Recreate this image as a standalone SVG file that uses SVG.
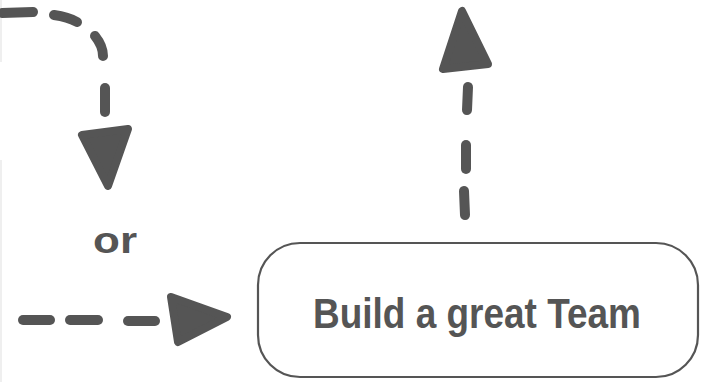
<svg xmlns="http://www.w3.org/2000/svg" width="706" height="382" viewBox="0 0 706 382">
<style>
.dash{fill:none;stroke:#555;stroke-width:10;stroke-linecap:round}
.head{fill:#555;stroke:#555;stroke-width:8;stroke-linejoin:round}
.box{fill:#fff;stroke:#555;stroke-width:2.2}
.lbl{font-family:"Liberation Sans",Arial,sans-serif;fill:#555;font-weight:bold}
.edge{stroke:#e4e4e4;stroke-width:1.2}
</style>
<rect width="706" height="382" fill="#fff"/>
<g id="frame">
<line class="edge" x1="1" y1="0" x2="1" y2="62"/>
<line class="edge" x1="1" y1="160" x2="1" y2="382"/>
</g>
<g id="connectors">
<g id="loop-down">
<path class="dash" d="M2,13 L33,12"/>
<path class="dash" d="M54,15 Q68,17 77,22"/>
<path class="dash" d="M95,36 Q103,46 103,56"/>
<path class="dash" d="M105,88 L105,112"/>
<polygon class="head" points="82,135 128,129 108,186"/>
</g>
<g id="right-arrow">
<path class="dash" d="M23,320 L50,320"/>
<path class="dash" d="M70,320 L98,320"/>
<path class="dash" d="M128,321 L155,321"/>
<polygon class="head" points="171,297 227,317 178,342"/>
</g>
<g id="up-arrow">
<path class="dash" d="M468,87 L467,110"/>
<path class="dash" d="M466,145 L466,169"/>
<path class="dash" d="M464,191 L465,215"/>
<polygon class="head" points="462,11 443,69 488,64"/>
</g>
</g>
<g id="or-label">
<text class="lbl" x="115" y="253" font-size="36" text-anchor="middle" textLength="44" lengthAdjust="spacingAndGlyphs">or</text>
</g>
<g id="node-team">
<rect class="box" x="258" y="243" width="440" height="134" rx="42" ry="42"/>
<text class="lbl" x="477" y="328" font-size="42" text-anchor="middle" textLength="328" lengthAdjust="spacingAndGlyphs">Build a great Team</text>
</g>
</svg>
